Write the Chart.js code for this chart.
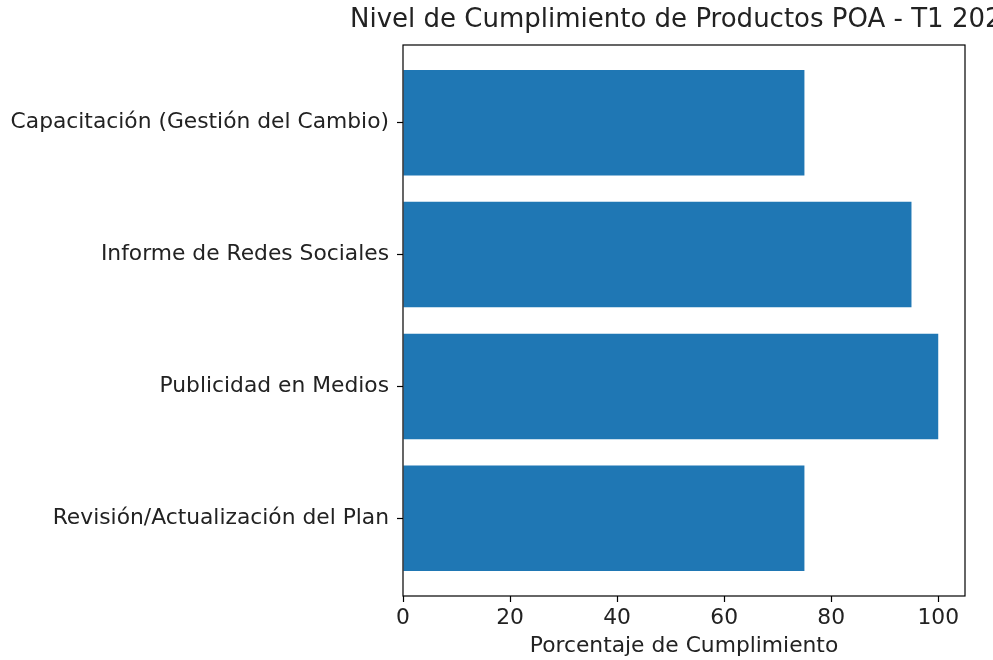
<!DOCTYPE html>
<html>
<head>
<meta charset="utf-8">
<script src="https://cdn.jsdelivr.net/npm/chart.js@4.4.1/dist/chart.umd.min.js"></script>
<style>
  html, body { margin: 0; padding: 0; background: #fff; overflow: hidden; }
  #wrap { width: 993px; height: 660px; }
</style>
</head>
<body>
<div id="wrap"><canvas id="cumplimientoChart"></canvas></div>
<script>
// categorias de abajo hacia arriba (orden matplotlib barh)
const categorias = [
    "Revisión/Actualización del Plan",
    "Publicidad en Medios",
    "Informe de Redes Sociales",
    "Capacitación (Gestión del Cambio)"
];
const porcentajes = [75, 100, 95, 75];
const xTicks = [0, 20, 40, 60, 80, 100];
const titulo = "Nivel de Cumplimiento de Productos POA - T1 2025";

const txtColor = "#222";
const fontFam = "'DejaVu Sans', sans-serif";

// marco completo + titulo (en el original queda cortado por la derecha)
const marco = {
    id: 'marco',
    afterDraw(chart) {
        const { ctx, chartArea: a } = chart;
        ctx.save();
        ctx.strokeStyle = "#000";
        ctx.lineWidth = 1.2;
        ctx.strokeRect(a.left, a.top, a.right - a.left, a.bottom - a.top);
        ctx.fillStyle = txtColor;
        ctx.font = "26px " + fontFam;
        ctx.textAlign = "left";
        ctx.textBaseline = "middle";
        ctx.fillText(titulo, a.left - 53, 20);
        ctx.restore();
    }
};

const chart = new Chart(
    document.getElementById('cumplimientoChart'),
    {
        type: 'bar',
        data: {
            datasets: [{
                label: "Porcentaje de Cumplimiento",
                data: porcentajes.map((v, i) => ({ x: v, y: i })),
                backgroundColor: "#1f77b4",
                borderWidth: 0,
                barPercentage: 0.8,
                categoryPercentage: 1
            }]
        },
        options: {
            indexAxis: 'y',
            responsive: true,
            maintainAspectRatio: false,
            animation: false,
            layout: { padding: { left: 0, right: 28, top: 45, bottom: 0 } },
            plugins: {
                legend: { display: false },
                tooltip: { enabled: false },
                title: { display: false }
            },
            scales: {
                x: {
                    type: 'linear',
                    min: 0,
                    max: 105,
                    afterBuildTicks: s => { s.ticks = xTicks.map(v => ({ value: v })); },
                    afterFit: s => { s.height = 64; },
                    grid: { drawOnChartArea: false, drawTicks: true, tickLength: 6, tickColor: "#000", tickWidth: 1.2 },
                    border: { display: false },
                    ticks: { color: txtColor, padding: 3, font: { family: fontFam, size: 21.8 } },
                    title: {
                        display: true,
                        text: "Porcentaje de Cumplimiento",
                        color: txtColor,
                        font: { family: fontFam, size: 21.8 },
                        padding: { top: 0, bottom: 1 }
                    }
                },
                y: {
                    type: 'linear',
                    min: -0.59,
                    max: 3.59,
                    offset: false,
                    afterBuildTicks: s => { s.ticks = categorias.map((c, i) => ({ value: i })); },
                    afterFit: s => { s.width = 403; },
                    grid: { offset: false, drawOnChartArea: false, drawTicks: true, tickLength: 6, tickColor: "#000", tickWidth: 1.2 },
                    border: { display: false },
                    ticks: {
                        color: txtColor,
                        padding: 8,
                        font: { family: fontFam, size: 21.8 },
                        callback: v => categorias[v]
                    }
                }
            }
        },
        plugins: [marco]
    }
);
</script>
</body>
</html>
